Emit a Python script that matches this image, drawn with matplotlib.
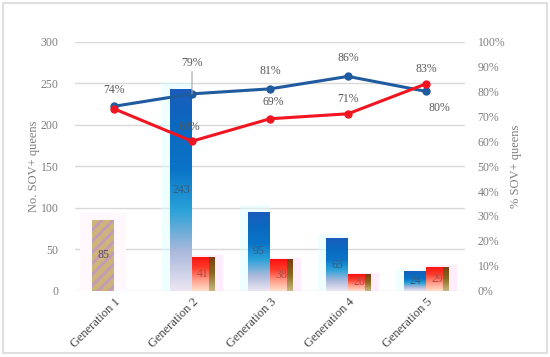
import matplotlib
matplotlib.use("Agg")
import matplotlib.pyplot as plt
import numpy as np
from matplotlib.colors import LinearSegmentedColormap
from matplotlib.patches import Rectangle

categories = ["Generation 1", "Generation 2", "Generation 3", "Generation 4", "Generation 5"]
gen1_counts = [85, None, None, None, None]
blue_counts = [None, 243, 95, 63, 24]
red_counts = [None, 41, 38, 20, 29]
blue_pct = [74, 79, 81, 86, 80]
red_pct = [73, 60, 69, 71, 83]
blue_pct_labels = ["74%", "79%", "81%", "86%", "80%"]
red_pct_labels = [None, "60%", "69%", "71%", "83%"]
left_ticks = [0, 50, 100, 150, 200, 250, 300]
right_ticks = list(range(0, 101, 10))

plt.rcParams['font.family'] = ['Liberation Serif', 'DejaVu Serif']
TXT = '#7f7f7f'

fig = plt.figure(figsize=(5.5, 3.57), dpi=100)
fig.patches.append(Rectangle((0.006, 0.01), 0.988, 0.982, transform=fig.transFigure,
                             fill=False, edgecolor='#d9d9d9', linewidth=1.2))
ax = fig.add_axes([0.1364, 0.1857, 0.709, 0.698])
ax2 = ax.twinx()
ax.set_zorder(1)
ax2.set_zorder(2)
ax.patch.set_visible(False)
ax2.patch.set_visible(False)

x = np.arange(len(categories))
w = 0.282

ax.set_xlim(-0.5, 4.5)
ax.set_ylim(0, 300)
ax2.set_ylim(0, 100)

for t in left_ticks:
    ax.axhline(t, color='#d9d9d9', linewidth=1, zorder=0)

blue_cmap = LinearSegmentedColormap.from_list('b', ['#ece6f2', '#a8b8dc', '#2aa2d8', '#0a74c8', '#0a6ac0', '#1a5cbc'])
red_cmap = LinearSegmentedColormap.from_list('r', ['#ffe0cc', '#ff9a86', '#ff3a2a', '#f81010'])
edge_cmap = LinearSegmentedColormap.from_list('e', ['#c8b880', '#8a6a20', '#7a3a10'])
grad = np.linspace(0, 1, 256).reshape(-1, 1)

def grad_bar(xc, h, cmap):
    bars = ax.bar([xc], [h], width=w, color='none', edgecolor='none', zorder=2)
    p = bars[0]
    im = ax.imshow(grad, cmap=cmap, aspect='auto', origin='lower',
                   extent=[xc - w / 2, xc + w / 2, 0, h], zorder=2)
    im.set_clip_path(p)
    return p

# Generation 1 hatched bar
plt.rcParams['hatch.color'] = '#c49ab8'
plt.rcParams['hatch.linewidth'] = 2.0
for i, v in enumerate(gen1_counts):
    if v is None:
        continue
    xc = x[i] - w / 2
    ax.add_patch(Rectangle((xc - w / 2 - 0.15, 0), w + 0.3, v * 1.1, facecolor='#fff8fc',
                           edgecolor='none', zorder=1))
    ax.bar([xc], [v], width=w, color='#cdb47a', hatch='///', edgecolor='#c49ab8',
           linewidth=0, zorder=2)
    ax.text(xc, v / 2, str(v), ha='center', va='center', fontsize=8.5, color='#5a4a60', zorder=5)

for i, v in enumerate(blue_counts):
    if v is None:
        continue
    xc = x[i] - w / 2
    ax.add_patch(Rectangle((xc - w / 2 - 0.1, 0), w + 0.1, min(v * 1.08, v + 8), facecolor='#dcffff',
                           edgecolor='none', alpha=0.45, zorder=1))
    grad_bar(xc, v, blue_cmap)
    ax.text(xc, v / 2, str(v), ha='center', va='center', fontsize=8.5, color='#3e5a7a', zorder=5)

for i, v in enumerate(red_counts):
    if v is None:
        continue
    xc = x[i] + w / 2
    ax.add_patch(Rectangle((xc - w / 2, 0), w + 0.12, v * 1.05, facecolor='#ffe0fa',
                           edgecolor='none', alpha=0.6, zorder=1))
    p = grad_bar(xc, v, red_cmap)
    im = ax.imshow(grad, cmap=edge_cmap, aspect='auto', origin='lower',
                   extent=[xc + w / 2 - 0.07, xc + w / 2, 0, v], zorder=3)
    im.set_clip_path(p)
    ax.text(xc, v / 2, str(v), ha='center', va='center', fontsize=8.5, color='#b04a4a', zorder=5)

ax.set_xlim(-0.5, 4.5)
ax.set_ylim(0, 300)

# lines
ax2.plot(x, blue_pct, color='#1f5b9e', linewidth=2.2, marker='o', markersize=5, zorder=3)
ax2.plot(x, red_pct, color='#f01520', linewidth=2.2, marker='o', markersize=5, zorder=4)

blue_offsets = [(0, 12), (0, 22), (0, 13), (0, 13), (10, -12)]
for i, lab in enumerate(blue_pct_labels):
    dx, dy = blue_offsets[i]
    ax2.annotate(lab, (x[i], blue_pct[i]), xytext=(dx, dy), textcoords='offset points',
                 ha='center', va='center', fontsize=8.5, color='#595959', zorder=6)
ax2.annotate('', (x[1], blue_pct[1]), xytext=(0, 16), textcoords='offset points',
             arrowprops=dict(arrowstyle='-', color='#a6a6a6', lw=0.8, shrinkA=0, shrinkB=0))
red_offsets = [(0, 0), (-2, 10), (2, 12), (0, 11), (0, 11)]
for i, lab in enumerate(red_pct_labels):
    if lab is None:
        continue
    dx, dy = red_offsets[i]
    ax2.annotate(lab, (x[i], red_pct[i]), xytext=(dx, dy), textcoords='offset points',
                 ha='center', va='center', fontsize=8.5, color='#595959', zorder=6)

ax.set_yticks(left_ticks)
ax.set_yticklabels([str(t) for t in left_ticks])
ax2.set_yticks(right_ticks)
ax2.set_yticklabels([f"{t}%" for t in right_ticks])
ax.set_xticks(x)
ax.set_xticklabels(categories, rotation=45, ha='right', va='top', rotation_mode='anchor',
                   fontsize=9, color='#404040')
ax.tick_params(axis='x', length=0, pad=4)
ax.tick_params(axis='y', length=0, pad=12, labelsize=8.5, labelcolor=TXT)
ax2.tick_params(axis='y', length=0, pad=9, labelsize=8.5, labelcolor=TXT)
for a in (ax, ax2):
    for s in a.spines.values():
        s.set_visible(False)

ax.set_ylabel('No. SOV+ queens', fontsize=9, color=TXT)
ax.yaxis.set_label_coords(-0.09, 0.5)
ax2.set_ylabel('% SOV+ queens', fontsize=9, color=TXT, rotation=90)
ax2.yaxis.set_label_coords(1.115, 0.5)

fig.savefig('out.png', dpi=100)
